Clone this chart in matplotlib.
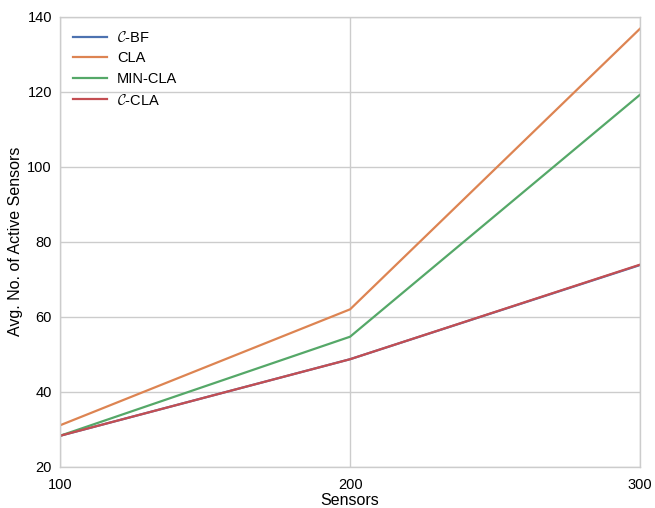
import matplotlib
matplotlib.use("Agg")
import matplotlib.pyplot as plt

plt.rcParams.update({
    "font.family": ["Liberation Sans", "DejaVu Sans"],
    "mathtext.fontset": "cm",
    "axes.edgecolor": "#cccccc",
    "axes.linewidth": 1.0,
    "grid.color": "#cccccc",
    "grid.linewidth": 1.0,
})

# ── Data ─────────────────────────────────────────────────────────────────────
sensors = [100, 200, 300]
c_bf    = [28.3, 48.7, 73.8]
cla     = [31.1, 62.0, 136.8]
min_cla = [28.3, 54.7, 119.2]
c_cla   = [28.3, 48.7, 73.9]

series = [
    (r"$\mathcal{C}$-BF",  c_bf,    "#4C72B0"),
    ("CLA",                cla,     "#DD8452"),
    ("MIN-CLA",            min_cla, "#55A868"),
    (r"$\mathcal{C}$-CLA", c_cla,   "#C44E52"),
]

fig = plt.figure(figsize=(6.55, 5.08), dpi=100)
ax = fig.add_axes([0.092, 0.081, 0.885, 0.886])

for label, vals, col in series:
    ax.plot(sensors, vals, color=col, linewidth=1.6, label=label)

ax.set_xlim(100, 300)
ax.set_ylim(20, 140)
ax.set_xticks([100, 200, 300])
ax.set_yticks([20, 40, 60, 80, 100, 120, 140])
ax.grid(True)
ax.set_axisbelow(True)
ax.tick_params(axis="x", length=0, labelsize=10.5, pad=8)
ax.tick_params(axis="y", length=0, labelsize=10.5, pad=6)
ax.set_xlabel("Sensors", fontsize=11.5, labelpad=1)
ax.set_ylabel("Avg. No. of Active Sensors", fontsize=11.5, labelpad=3)

ax.legend(loc="upper left", frameon=False, fontsize=10.5, handlelength=2.3,
          borderaxespad=0.5, labelspacing=0.45, handletextpad=0.7)

fig.savefig("out.png", dpi=100, facecolor="white")
